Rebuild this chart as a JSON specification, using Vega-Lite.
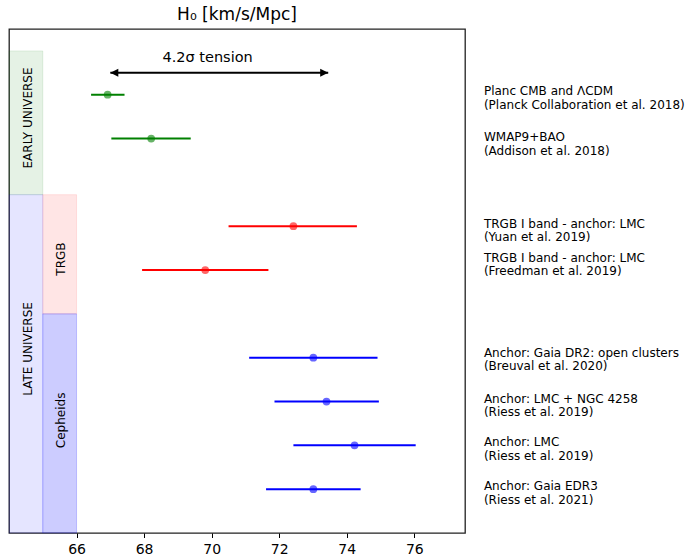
{
  "$schema": "https://vega.github.io/schema/vega-lite/v6.json",
  "width": 456,
  "height": 504,
  "autosize": {"type": "none"},
  "padding": {"left": 9, "top": 29, "right": 223, "bottom": 27},
  "background": "white",
  "config": {
    "font": "DejaVu Sans",
    "view": {"stroke": "#222222", "strokeWidth": 1.3},
    "text": {"color": "black"}
  },
  "title": {
    "text": "H₀ [km/s/Mpc]",
    "fontSize": 17,
    "fontWeight": "normal",
    "color": "black",
    "anchor": "middle",
    "frame": "group",
    "baseline": "alphabetic",
    "offset": 8,
    "dy": 16
  },
  "datasets": {
    "bands": [
      {"band": "Early universe", "name": "EARLY UNIVERSE", "x0": 64, "x1": 65, "y0": 7.72, "y1": 11.0, "tx": 64.55, "ty": 9.47},
      {"band": "Late universe", "name": "LATE UNIVERSE", "x0": 64, "x1": 65, "y0": 0, "y1": 7.72, "tx": 64.55, "ty": 4.2},
      {"band": "TRGB", "name": "TRGB", "x0": 65, "x1": 66, "y0": 5.0, "y1": 7.72, "tx": 65.55, "ty": 6.25},
      {"band": "Cepheids", "name": "Cepheids", "x0": 65, "x1": 66, "y0": 0, "y1": 5.0, "tx": 65.55, "ty": 2.57}
    ],
    "measurements": [
      {"group": "Early universe", "label": "Planc CMB and ΛCDM\n(Planck Collaboration et al. 2018)", "h0": 66.92, "lo": 66.43, "hi": 67.42, "row": 10, "ly": 9.93},
      {"group": "Early universe", "label": "WMAP9+BAO\n(Addison et al. 2018)", "h0": 68.21, "lo": 67.03, "hi": 69.38, "row": 9, "ly": 8.88},
      {"group": "TRGB", "label": "TRGB I band - anchor: LMC\n(Yuan et al. 2019)", "h0": 72.42, "lo": 70.5, "hi": 74.3, "row": 7, "ly": 6.9},
      {"group": "TRGB", "label": "TRGB I band - anchor: LMC\n(Freedman et al. 2019)", "h0": 69.81, "lo": 67.94, "hi": 71.68, "row": 6, "ly": 6.13},
      {"group": "Cepheids", "label": "Anchor: Gaia DR2: open clusters\n(Breuval et al. 2020)", "h0": 73.01, "lo": 71.11, "hi": 74.91, "row": 4, "ly": 3.96},
      {"group": "Cepheids", "label": "Anchor: LMC + NGC 4258\n(Riess et al. 2019)", "h0": 73.4, "lo": 71.86, "hi": 74.95, "row": 3, "ly": 2.91},
      {"group": "Cepheids", "label": "Anchor: LMC\n(Riess et al. 2019)", "h0": 74.23, "lo": 72.42, "hi": 76.04, "row": 2, "ly": 1.92},
      {"group": "Cepheids", "label": "Anchor: Gaia EDR3\n(Riess et al. 2021)", "h0": 73.01, "lo": 71.61, "hi": 74.41, "row": 1, "ly": 0.92}
    ],
    "tension": [
      {"from": 67.0, "to": 73.45, "level": 10.5, "text": "4.2σ tension", "tx": 69.88, "ty": 10.84}
    ]
  },
  "layer": [
    {
      "data": {"name": "bands"},
      "mark": {"type": "rect", "strokeWidth": 1},
      "encoding": {
        "x": {
          "field": "x0", "type": "quantitative",
          "scale": {"domain": [64, 77.5], "nice": false, "zero": false},
          "axis": {
            "values": [66, 68, 70, 72, 74, 76],
            "title": null, "grid": false, "domain": false,
            "tickSize": 4.5, "tickColor": "black", "tickWidth": 1,
            "labelFontSize": 14, "labelColor": "black", "labelPadding": 5
          }
        },
        "x2": {"field": "x1"},
        "y": {
          "field": "y0", "type": "quantitative",
          "scale": {"domain": [0, 11.5], "nice": false, "zero": false},
          "axis": null
        },
        "y2": {"field": "y1"},
        "fill": {
          "field": "band", "type": "nominal",
          "scale": {"domain": ["Early universe", "Late universe", "TRGB", "Cepheids"], "range": ["rgba(0,128,0,0.1)", "rgba(0,0,255,0.1)", "rgba(255,0,0,0.1)", "rgba(0,0,255,0.2)"]},
          "legend": null
        },
        "stroke": {
          "field": "band", "type": "nominal",
          "scale": {"domain": ["Early universe", "Late universe", "TRGB", "Cepheids"], "range": ["rgba(0,128,0,0.1)", "rgba(0,0,255,0.1)", "rgba(255,0,0,0.1)", "rgba(0,0,255,0.2)"]},
          "legend": null
        }
      }
    },
    {
      "data": {"name": "bands"},
      "mark": {"type": "text", "angle": 270, "fontSize": 12, "align": "center", "baseline": "middle", "color": "black"},
      "encoding": {
        "x": {"field": "tx", "type": "quantitative"},
        "y": {"field": "ty", "type": "quantitative", "axis": null},
        "text": {"field": "name"}
      }
    },
    {
      "data": {"name": "measurements"},
      "mark": {"type": "rule", "strokeWidth": 2},
      "encoding": {
        "x": {"field": "lo", "type": "quantitative"},
        "x2": {"field": "hi"},
        "y": {"field": "row", "type": "quantitative", "axis": null},
        "color": {
          "field": "group", "type": "nominal",
          "scale": {"domain": ["Early universe", "TRGB", "Cepheids"], "range": ["#008000", "#ff0000", "#0000ff"]},
          "legend": null
        }
      }
    },
    {
      "data": {"name": "measurements"},
      "mark": {"type": "circle", "size": 60, "opacity": 0.6},
      "encoding": {
        "x": {"field": "h0", "type": "quantitative"},
        "y": {"field": "row", "type": "quantitative", "axis": null},
        "color": {"field": "group", "type": "nominal", "legend": null}
      }
    },
    {
      "data": {"name": "measurements"},
      "mark": {"type": "text", "align": "left", "baseline": "middle", "fontSize": 12, "lineBreak": "\n", "lineHeight": 13.7, "dy": -6.8, "color": "black"},
      "encoding": {
        "x": {"datum": 78.06, "type": "quantitative"},
        "y": {"field": "ly", "type": "quantitative", "axis": null},
        "text": {"field": "label"}
      }
    },
    {
      "data": {"name": "tension"},
      "mark": {"type": "rule", "strokeWidth": 2, "color": "black"},
      "encoding": {
        "x": {"field": "from", "type": "quantitative"},
        "x2": {"field": "to"},
        "y": {"field": "level", "type": "quantitative", "axis": null}
      }
    },
    {
      "data": {"name": "tension"},
      "mark": {"type": "point", "shape": "M0,0L2,-1L2,1Z", "filled": true, "size": 64, "color": "black", "opacity": 1, "strokeWidth": 0},
      "encoding": {
        "x": {"field": "from", "type": "quantitative"},
        "y": {"field": "level", "type": "quantitative", "axis": null}
      }
    },
    {
      "data": {"name": "tension"},
      "mark": {"type": "point", "shape": "M0,0L-2,-1L-2,1Z", "filled": true, "size": 64, "color": "black", "opacity": 1, "strokeWidth": 0},
      "encoding": {
        "x": {"field": "to", "type": "quantitative"},
        "y": {"field": "level", "type": "quantitative", "axis": null}
      }
    },
    {
      "data": {"name": "tension"},
      "mark": {"type": "text", "align": "center", "baseline": "middle", "fontSize": 14.5, "color": "black"},
      "encoding": {
        "x": {"field": "tx", "type": "quantitative"},
        "y": {"field": "ty", "type": "quantitative", "axis": null},
        "text": {"field": "text"}
      }
    }
  ]
}
